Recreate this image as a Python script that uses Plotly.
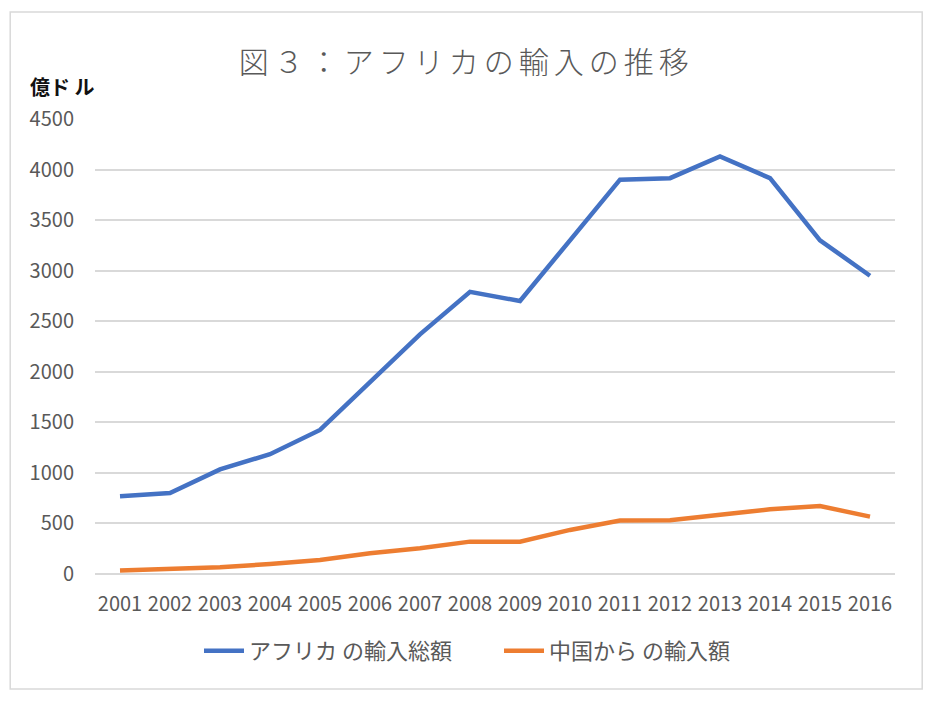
import plotly.graph_objects as go

# data (億ドル)
years = [str(y) for y in range(2001, 2017)]
africa_total = [770, 800, 1035, 1185, 1425, 1900, 2370, 2790, 2700, 3300,
                3900, 3915, 4130, 3915, 3300, 2950]
from_china = [35, 46, 66, 99, 139, 205, 254, 320, 320, 436,
              528, 532, 584, 640, 672, 567]
y_ticks = [0, 500, 1000, 1500, 2000, 2500, 3000, 3500, 4000, 4500]

FONT = "Noto Sans CJK JP"
GRAY = "#595959"

fig = go.Figure()
fig.add_trace(go.Scatter(x=years, y=africa_total, mode='lines',
                         name='アフリカ の輸入総額',
                         line=dict(color='#4472C4', width=4.5)))
fig.add_trace(go.Scatter(x=years, y=from_china, mode='lines',
                         name='中国から の輸入額',
                         line=dict(color='#ED7D31', width=4.5)))

fig.update_xaxes(type='category', range=[-0.5, 15.5], showgrid=False,
                 showline=False, zeroline=False,
                 tickangle=0, ticklabelstandoff=16,
                 tickfont=dict(family=FONT, size=20, color=GRAY))
fig.update_yaxes(range=[0, 4500], tickvals=y_ticks, showline=False,
                 gridcolor='#d9d9d9', gridwidth=1.5,
                 zeroline=True, zerolinecolor='#d9d9d9', zerolinewidth=1.5,
                 ticklabelstandoff=20,
                 tickfont=dict(family=FONT, size=20, color=GRAY))

# outer frame
fig.add_shape(type='rect', xref='paper', yref='paper',
              x0=-0.106, x1=1.034, y0=-0.253, y1=1.235,
              line=dict(color='#d9d9d9', width=1.5))

fig.add_annotation(text='億ド ル', xref='paper', yref='paper',
                   x=-0.084, y=1.072, xanchor='left', yanchor='middle',
                   showarrow=False,
                   font=dict(family=FONT, size=20, color='#111111', weight='bold'))

# page body adds an 8px margin, so the figure is 8px smaller
fig.update_layout(
    width=926, height=693,
    margin=dict(l=87, r=39, t=111, b=127),
    paper_bgcolor='white', plot_bgcolor='white',
    title=dict(text='<span style="letter-spacing:5px">図３：アフリカの輸入の推移</span>',
               x=0.495, xanchor='center', y=0.922, yanchor='middle',
               font=dict(family=FONT, size=30, color=GRAY, weight=300)),
    legend=dict(orientation='h', x=0.13, xanchor='left', y=-0.169, yanchor='middle',
                font=dict(family=FONT, size=22, color=GRAY), itemwidth=40,
                entrywidth=245),
    font=dict(family=FONT),
)

fig.write_html("out.html")
